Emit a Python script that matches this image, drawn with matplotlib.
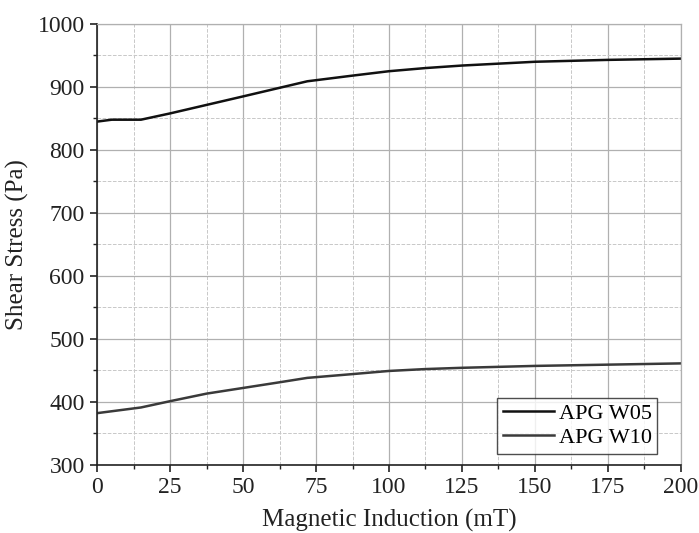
import matplotlib
matplotlib.use("Agg")
import matplotlib.pyplot as plt
from matplotlib.ticker import MultipleLocator

plt.rcParams['font.family'] = ['Liberation Serif', 'DejaVu Serif']

# data
induction_w05 = [0, 5, 15, 25, 50, 72, 87.5, 100, 112.5, 125, 150, 175, 200]
stress_w05 = [845, 848, 848, 858, 885, 909, 918, 925, 930, 934, 940, 943, 945]
induction_w10 = [0, 15, 25, 37.5, 50, 62.5, 72, 87.5, 100, 112.5, 125, 150, 175, 200]
stress_w10 = [382, 391, 401, 413, 422, 431, 438, 444, 449, 452, 454, 457, 459, 461]

fig = plt.figure(figsize=(6.99, 5.33), dpi=100)
ax = fig.add_axes([0.139, 0.128, 0.835, 0.827])

ax.plot(induction_w05, stress_w05, color='#111111', lw=1.8, label='APG W05')
ax.plot(induction_w10, stress_w10, color='#3a3a3a', lw=1.8, label='APG W10')

ax.set_xlim(0, 200)
ax.set_ylim(300, 1000)
ax.xaxis.set_major_locator(MultipleLocator(25))
ax.xaxis.set_minor_locator(MultipleLocator(12.5))
ax.yaxis.set_major_locator(MultipleLocator(100))
ax.yaxis.set_minor_locator(MultipleLocator(50))

ax.grid(which='major', color='#b0b0b0', lw=0.9, ls='-')
ax.grid(which='minor', color='#c8c8c8', lw=0.7, ls='--')
ax.set_axisbelow(True)

for s in ['left', 'bottom']:
    ax.spines[s].set_color('#222222')
    ax.spines[s].set_linewidth(1.2)
for s in ['top', 'right']:
    ax.spines[s].set_color('#b0b0b0')
    ax.spines[s].set_linewidth(0.9)

ax.tick_params(which='major', direction='out', length=5, width=1.2, labelsize=17, colors='#222222', pad=4)
ax.tick_params(which='minor', direction='out', length=3, width=1.0, colors='#222222')

ax.set_xlabel('Magnetic Induction (mT)', fontsize=18, color='#222222', labelpad=8)
ax.set_ylabel('Shear Stress (Pa)', fontsize=18, color='#222222', labelpad=6)

leg = ax.legend(loc='lower right', bbox_to_anchor=(0.967, 0.015), fontsize=16,
                frameon=True, fancybox=False, edgecolor='#222222',
                handlelength=2.3, handletextpad=0.2, borderpad=0.25,
                labelspacing=0.15, borderaxespad=0.2)
leg.get_frame().set_linewidth(1.0)

fig.savefig('out.png', dpi=100)
